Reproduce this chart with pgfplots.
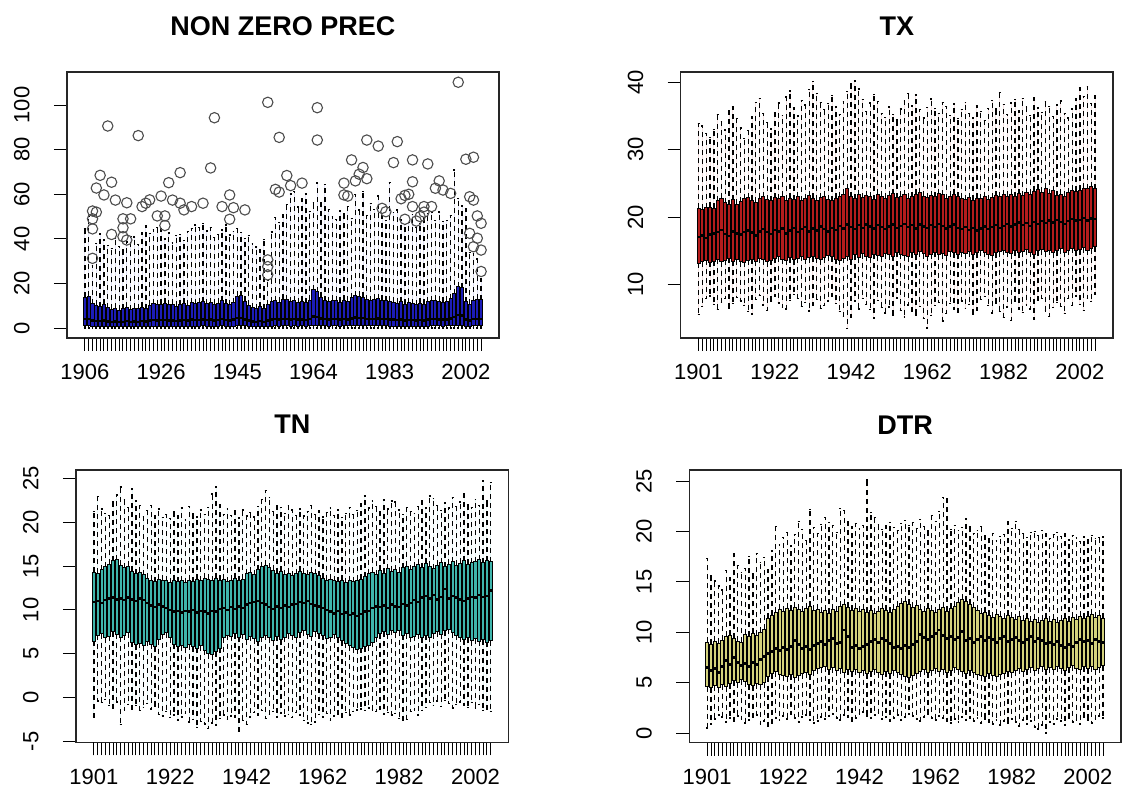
\documentclass[border=0pt]{standalone}
\usepackage{fontspec}
\setmainfont{Liberation Sans}
\usepackage{pgfplots}
\usepackage{pgfplotstable}
\pgfplotsset{compat=1.18}
\usepgfplotslibrary{statistics}

\definecolor{precfill}{HTML}{1C1CB8}
\definecolor{txfill}{HTML}{B41C1C}
\definecolor{tnfill}{HTML}{3FB5AC}
\definecolor{dtrfill}{HTML}{D4D27C}

% one row per year: lower whisker, lower quartile, median, upper quartile, upper whisker
\pgfplotstableread{
lw q1 med q3 uw
0.1 1.0 4.0 13.8 44.5
0.1 1.1 4.2 14.2 50.0
0.1 0.8 3.4 11.0 28.0
0.1 0.9 3.2 10.3 38.0
0.1 0.7 3.1 9.6 42.5
0.1 0.8 3.5 10.8 39.5
0.1 0.7 3.0 9.2 37.0
0.1 0.6 2.8 8.4 35.8
0.1 0.7 3.0 8.9 40.2
0.1 0.6 2.7 8.1 36.5
0.1 0.7 2.9 8.7 35.0
0.1 0.8 3.1 9.4 38.6
0.1 0.6 2.8 8.2 41.2
0.1 0.7 3.0 9.0 40.8
0.1 0.7 2.9 8.6 37.4
0.1 0.8 3.2 9.3 43.0
0.1 0.7 3.0 8.8 46.1
0.1 0.8 3.4 10.2 42.3
0.1 0.9 3.6 10.9 44.2
0.1 0.8 3.5 10.5 45.0
0.1 0.9 3.6 10.8 44.8
0.1 0.9 3.7 11.2 40.1
0.1 0.8 3.4 10.4 42.6
0.1 0.8 3.5 10.7 38.2
0.1 0.7 3.2 9.9 41.5
0.1 0.8 3.5 10.6 42.0
0.1 0.9 3.7 11.1 39.4
0.1 0.8 3.4 10.3 43.3
0.1 0.9 3.8 11.5 44.6
0.1 0.9 3.6 11.0 46.2
0.1 0.9 3.7 11.3 45.1
0.1 1.0 3.9 11.8 47.0
0.1 0.9 3.6 10.9 43.5
0.1 0.9 3.8 11.4 45.2
0.1 0.8 3.5 10.7 40.7
0.1 0.9 3.7 11.2 42.1
0.1 1.0 4.0 12.3 44.0
0.1 0.9 3.6 11.0 46.3
0.1 0.8 3.5 10.6 41.8
0.1 0.9 3.8 11.5 43.2
0.1 1.1 4.5 14.3 44.6
0.1 1.1 4.6 14.6 42.9
0.1 1.0 3.9 12.1 40.2
0.1 0.8 3.4 10.2 41.6
0.1 0.7 3.0 9.1 38.1
0.1 0.7 2.9 8.8 36.4
0.1 0.7 3.1 9.5 35.2
0.1 0.6 2.8 8.6 39.8
0.1 0.8 3.4 10.4 21.5
0.1 0.9 3.9 11.9 43.1
0.1 1.0 4.0 12.2 49.6
0.1 0.9 3.8 11.6 47.2
0.1 1.0 4.2 13.0 51.0
0.1 1.0 4.1 12.7 55.5
0.1 0.9 3.9 11.8 60.1
0.1 1.0 4.0 12.4 61.2
0.1 0.9 3.8 11.5 54.3
0.1 1.0 3.9 12.0 58.0
0.1 0.9 3.7 11.3 60.2
0.1 1.0 4.1 12.6 52.4
0.1 1.3 5.2 17.2 56.1
0.1 1.2 5.0 16.3 65.0
0.1 1.1 4.4 13.8 56.3
0.1 1.0 4.0 12.4 64.5
0.1 0.9 3.9 11.9 53.2
0.1 1.0 4.1 12.6 50.1
0.1 1.0 4.0 12.2 48.6
0.1 0.9 3.8 11.7 52.7
0.1 1.0 4.1 12.5 51.3
0.1 1.0 3.9 12.1 54.6
0.1 1.1 4.4 13.6 49.2
0.1 1.1 4.7 14.5 60.0
0.1 1.1 4.6 14.2 52.9
0.1 1.1 4.5 13.9 61.1
0.1 1.0 4.2 12.8 50.4
0.1 1.0 4.0 12.3 55.8
0.1 1.0 4.2 12.9 53.1
0.1 1.0 4.3 13.1 59.2
0.1 1.0 4.1 12.6 50.6
0.1 1.0 4.0 12.4 48.3
0.1 0.9 3.9 12.0 65.2
0.1 0.9 3.8 11.6 51.7
0.1 0.9 3.7 11.2 53.0
0.1 0.9 3.9 11.9 48.8
0.1 0.8 3.5 10.8 46.5
0.1 0.9 3.7 11.4 47.5
0.1 0.8 3.6 10.9 50.9
0.1 0.8 3.4 10.5 45.2
0.1 0.9 3.6 11.1 46.8
0.1 0.8 3.5 10.7 49.6
0.1 0.9 3.8 11.8 51.4
0.1 1.0 4.0 12.3 52.1
0.1 1.0 4.1 12.6 48.3
0.1 1.0 3.9 12.1 52.0
0.1 0.9 3.8 11.7 47.9
0.1 1.0 3.9 12.0 48.2
0.1 1.0 4.3 13.2 50.5
0.1 1.2 4.9 15.4 70.9
0.1 1.4 5.8 18.6 58.1
0.1 1.4 5.7 18.2 55.0
0.1 0.9 3.9 11.9 53.6
0.1 0.8 3.5 10.8 34.0
0.1 1.0 4.0 12.3 33.5
0.1 1.0 4.2 13.0 31.0
0.1 1.0 4.1 12.7 22.0
}\prectab

\pgfplotstableread{
lw q1 med q3 uw
5.6 13.2 17.1 21.3 33.9
6.8 13.4 17.3 21.2 33.5
7.9 13.6 16.9 21.4 32.4
8.3 13.3 17.4 21.5 31.8
7.1 13.5 17.6 21.3 33.0
6.3 13.8 17.8 22.4 35.2
7.4 13.4 18.1 22.8 34.1
8.0 13.6 17.5 22.1 32.9
6.5 13.9 17.2 21.8 35.8
7.2 13.5 17.9 22.6 36.4
8.1 13.7 17.6 21.9 34.6
7.6 13.4 17.4 22.3 33.2
6.9 13.3 17.8 22.7 31.6
6.0 13.6 18.0 22.9 32.8
5.6 13.8 17.7 22.5 34.9
7.8 13.5 17.3 22.2 37.0
8.4 13.9 17.9 22.8 37.6
7.0 13.7 18.2 23.0 35.3
6.2 13.4 17.8 22.6 34.0
7.5 13.6 17.5 22.4 33.1
8.2 13.9 18.1 22.9 35.5
7.3 14.1 17.9 22.7 36.9
6.6 13.8 18.3 23.1 35.1
6.4 13.6 17.6 22.5 37.8
7.7 14.0 18.0 22.8 38.7
8.5 13.7 18.4 22.6 36.2
7.9 13.9 17.8 23.0 35.0
6.8 14.2 18.2 22.4 37.3
7.4 13.8 18.5 22.7 36.6
6.1 14.0 17.9 23.2 38.9
7.0 14.1 18.3 22.8 40.1
7.8 13.9 18.0 22.5 38.3
6.5 13.7 18.6 22.9 37.0
6.9 14.0 18.2 23.1 35.9
7.6 14.3 17.9 22.6 36.8
8.3 14.1 18.4 22.4 38.0
7.2 13.8 18.1 22.8 36.3
6.0 13.6 18.7 23.0 35.2
5.3 13.9 18.3 23.4 37.1
3.5 14.2 18.9 24.2 38.6
5.1 13.7 18.5 23.0 39.7
7.5 14.4 18.2 22.7 40.2
6.4 14.0 18.8 23.3 39.0
8.0 14.6 18.4 22.9 37.4
7.1 14.2 18.9 23.2 35.6
6.3 14.0 18.6 23.0 36.9
5.0 14.5 18.3 22.6 38.2
7.7 14.3 18.8 23.4 37.1
6.6 14.1 18.5 23.1 35.4
5.8 14.6 18.2 22.8 34.8
6.7 14.4 18.6 23.2 36.3
5.4 14.2 18.9 23.5 35.2
7.9 14.8 18.4 22.9 34.4
6.2 14.5 18.7 23.1 36.0
5.2 14.3 19.0 23.3 37.2
7.0 14.1 18.5 22.8 38.3
6.1 14.7 18.8 23.0 36.5
5.5 14.4 18.3 23.4 38.1
6.8 14.9 18.9 23.6 35.9
5.0 14.6 18.6 23.1 34.7
3.6 14.2 18.4 22.9 36.2
5.4 14.5 18.8 23.2 37.5
6.9 14.8 18.5 23.0 36.1
7.4 14.4 19.0 23.5 35.3
4.6 14.6 18.7 23.3 37.0
5.7 14.3 18.3 22.7 36.4
7.2 14.9 18.6 23.1 35.1
6.4 14.7 18.9 23.4 36.8
5.9 14.5 18.4 23.0 34.6
7.6 14.8 18.2 22.8 35.9
6.5 14.6 18.5 22.6 37.0
7.1 14.9 18.1 22.9 35.4
5.6 14.4 18.4 22.5 34.8
6.2 14.7 18.0 22.8 36.5
7.8 15.0 18.3 22.7 35.6
8.2 14.8 18.6 23.0 34.3
6.9 14.5 18.2 22.6 36.1
5.8 14.3 18.5 22.9 37.3
7.3 14.7 18.8 23.2 36.0
6.0 14.9 18.4 23.0 38.5
5.1 15.1 18.7 23.3 36.7
6.7 14.8 19.0 23.1 35.2
4.7 14.6 18.6 23.4 36.9
7.5 15.0 18.9 23.0 37.4
6.3 14.7 19.2 23.5 35.8
5.9 14.9 18.8 23.2 37.6
7.0 15.2 19.1 23.6 36.3
6.4 14.8 18.7 23.4 35.1
4.9 14.5 19.3 23.8 37.7
7.7 15.0 19.0 24.1 36.2
8.0 15.2 19.4 23.7 35.5
6.1 14.9 19.1 24.3 37.1
5.3 15.1 19.5 23.5 36.4
6.6 14.7 19.2 23.9 34.9
7.4 15.0 19.6 23.2 36.6
6.8 15.3 19.3 23.4 37.2
5.7 14.8 19.0 23.1 35.3
7.9 15.1 19.4 23.6 34.7
6.9 15.4 19.7 24.0 36.0
8.3 15.0 19.5 23.8 37.5
7.1 15.2 19.6 24.0 39.2
6.2 15.5 19.9 24.3 37.9
8.0 15.1 19.5 24.2 39.4
7.5 15.3 19.8 24.5 36.8
8.6 15.6 19.7 24.2 38.0
}\txtab

\pgfplotstableread{
lw q1 med q3 uw
-2.2 6.4 10.9 14.3 21.2
-0.4 7.1 11.0 14.2 22.9
-0.6 7.3 10.8 14.6 21.5
-0.2 6.8 11.1 14.9 21.0
-0.9 7.0 11.3 15.2 20.8
-1.2 7.5 11.4 15.6 22.3
-0.5 7.2 11.2 15.7 23.1
-3.1 6.9 11.3 15.1 24.0
-1.4 7.1 11.1 14.8 22.6
-0.8 7.4 11.4 15.0 21.7
-1.3 6.3 11.2 14.4 23.8
-0.9 6.0 11.0 14.1 22.4
-1.5 6.2 11.3 14.3 21.9
-1.1 5.9 11.1 14.0 20.6
-0.7 6.4 10.8 13.6 21.3
-1.3 6.1 10.5 13.4 21.9
-1.0 5.8 10.3 13.2 20.8
-1.9 6.6 10.6 13.5 21.5
-2.1 7.2 10.4 13.4 20.5
-1.6 7.4 10.2 13.3 20.9
-2.3 6.8 10.0 13.1 20.4
-2.0 6.1 9.8 13.4 21.2
-2.6 5.8 9.9 13.2 20.7
-2.2 5.9 9.7 13.3 21.6
-1.8 5.7 9.9 13.1 20.3
-2.8 6.0 9.8 13.4 21.8
-2.5 5.8 10.0 13.2 21.0
-3.4 5.6 9.7 13.5 20.6
-2.7 5.9 9.9 13.3 21.4
-3.0 5.4 9.8 13.6 20.9
-3.5 5.0 9.6 13.5 21.7
-2.9 4.9 9.9 13.3 23.2
-3.2 5.2 9.8 13.6 24.1
-2.4 5.6 10.1 13.4 22.0
-2.0 6.8 10.2 13.5 20.9
-2.5 7.1 10.0 13.2 21.5
-2.1 7.0 10.3 13.4 20.8
-2.3 7.3 10.1 13.6 21.3
-3.9 6.9 10.4 13.3 20.5
-2.6 7.2 10.2 13.5 21.4
-3.1 6.6 10.6 14.1 20.7
-2.2 7.0 10.8 14.3 21.1
-1.7 6.7 10.9 14.0 20.6
-2.0 6.4 11.0 14.6 21.8
-1.5 6.9 10.8 14.9 22.6
-2.4 7.1 10.6 15.1 23.6
-1.9 6.8 10.3 14.8 22.8
-1.6 6.5 10.1 14.5 21.2
-2.2 7.0 10.4 14.2 21.9
-1.8 6.6 10.2 14.4 21.7
-2.1 6.9 10.5 14.0 21.0
-1.9 7.3 10.3 14.2 21.9
-2.3 7.1 10.6 13.9 21.4
-1.7 6.8 10.7 14.1 20.8
-2.0 7.4 10.9 14.4 21.5
-2.6 7.6 10.8 14.2 20.7
-2.9 7.2 11.0 14.0 21.2
-3.1 7.0 10.7 14.3 21.9
-2.8 7.5 10.5 14.1 20.9
-1.9 7.3 10.4 13.9 21.3
-2.2 7.1 10.2 13.6 20.6
-1.8 6.7 10.0 13.4 21.1
-2.6 6.9 9.8 13.5 21.6
-2.1 7.2 9.6 13.3 20.8
-1.9 6.8 9.9 13.2 21.4
-2.3 6.5 9.5 13.4 20.5
-1.7 6.2 9.7 13.1 21.0
-2.0 5.9 9.4 13.3 21.7
-1.6 5.7 9.6 13.2 20.9
-1.4 5.5 9.3 13.4 21.3
-1.3 5.6 9.5 13.5 22.1
-1.5 5.8 9.8 13.8 23.0
-1.2 5.9 9.9 14.1 21.6
-1.4 6.3 10.2 14.3 22.4
-1.6 6.9 10.4 14.0 21.8
-1.3 7.3 10.3 14.5 21.2
-1.9 7.5 10.5 14.2 22.6
-1.7 7.2 10.2 14.7 21.5
-2.0 7.7 10.6 14.4 22.4
-1.8 7.4 10.4 14.6 22.3
-2.4 7.6 10.3 14.3 21.4
-2.6 7.1 10.7 14.8 20.9
-2.5 7.3 10.5 15.0 21.7
-1.6 6.9 10.8 14.6 21.2
-1.4 7.0 11.1 14.9 21.0
-2.0 7.2 10.9 15.2 21.8
-1.5 6.8 11.4 14.8 22.5
-1.1 7.1 11.6 15.3 21.6
-0.6 6.9 11.3 15.0 23.0
-0.9 7.3 11.7 14.7 22.7
-0.4 7.5 11.2 15.1 21.9
-1.0 7.2 11.5 15.4 21.3
-0.3 7.6 12.4 14.9 22.2
-0.7 7.8 11.3 15.2 21.6
-1.2 7.4 11.6 15.5 22.8
-0.8 7.1 11.4 15.1 21.8
-0.5 6.9 11.2 15.3 22.3
-0.9 6.6 11.0 15.6 23.3
-1.1 6.8 11.3 15.2 22.0
-0.6 6.5 11.5 15.4 21.7
-1.2 6.7 11.4 15.5 22.6
-0.8 6.4 11.7 15.7 21.9
-1.5 6.6 11.5 15.4 24.7
-1.3 6.3 11.6 15.6 22.4
-1.6 6.5 12.2 15.5 24.5
}\tntab

\pgfplotstableread{
lw q1 med q3 uw
0.5 4.6 6.5 9.0 17.3
0.9 4.5 6.2 8.8 15.6
1.4 4.7 6.4 9.1 15.1
1.8 4.5 6.0 8.9 14.6
1.6 4.8 6.6 9.2 14.2
1.1 4.6 7.2 9.6 16.1
1.5 4.9 6.8 9.7 15.4
1.2 5.2 7.5 9.4 17.8
1.7 5.0 7.0 9.1 16.6
1.4 5.3 6.7 9.0 15.9
1.0 5.1 6.9 9.8 16.3
1.3 4.8 6.6 9.6 17.5
1.6 4.7 7.0 9.9 15.8
1.8 4.9 6.8 9.7 17.8
0.9 4.8 7.3 10.0 16.9
1.2 5.0 7.6 10.3 17.4
0.7 5.6 7.9 11.4 16.2
1.0 5.9 8.1 11.7 18.1
1.5 6.1 8.4 12.0 20.5
1.3 5.8 8.2 12.3 18.7
1.7 5.7 8.5 12.1 19.4
1.4 5.6 8.3 12.4 19.9
1.9 5.8 8.6 12.2 18.6
1.5 5.5 9.2 12.5 19.7
1.1 5.7 8.8 12.3 21.0
1.6 5.9 8.4 12.1 20.2
1.8 6.0 8.6 12.4 19.1
1.3 5.8 8.3 12.6 22.2
1.0 6.2 8.7 12.2 20.4
1.2 6.4 8.9 12.3 19.8
1.6 6.5 9.1 12.0 20.7
1.4 6.6 8.8 12.2 21.4
1.7 6.3 9.2 11.9 20.9
1.9 6.5 9.4 12.3 20.6
1.5 6.2 8.9 12.1 19.9
1.3 6.4 9.0 12.6 22.3
1.8 6.0 10.2 12.8 22.1
1.6 6.3 9.6 12.5 21.0
1.2 6.1 8.5 12.2 20.5
1.5 6.3 8.7 12.4 20.8
1.9 6.0 8.4 12.1 20.3
2.1 6.2 8.6 12.3 20.6
1.7 5.9 8.8 12.0 25.1
1.5 6.1 9.1 12.2 21.9
1.8 6.3 9.3 11.9 21.4
2.0 6.0 9.0 12.1 20.7
1.4 5.8 9.4 12.4 20.2
1.6 6.1 9.2 12.2 20.6
1.2 5.9 8.9 12.0 20.9
1.5 6.2 8.5 12.3 20.4
1.8 6.0 8.6 12.6 20.1
1.3 5.8 8.4 12.9 20.8
1.6 5.6 8.7 13.1 21.1
1.9 5.5 8.5 12.8 20.6
1.7 5.7 8.8 12.5 20.9
1.4 5.9 9.1 12.7 20.3
1.2 6.1 9.8 12.3 21.2
1.6 6.3 9.5 12.1 20.5
1.9 6.0 9.3 12.4 20.1
1.5 6.2 9.6 12.2 21.6
1.3 6.4 9.9 12.0 21.0
1.7 6.1 10.2 12.3 22.0
1.5 6.3 9.7 12.5 23.4
1.2 6.0 9.4 12.1 23.3
1.0 6.2 9.6 12.4 20.2
1.4 6.5 9.3 12.6 20.6
1.1 6.3 9.5 13.0 20.1
1.6 6.1 10.1 13.3 20.4
1.3 5.9 9.2 13.1 21.3
1.5 6.2 9.4 12.8 20.5
1.2 6.0 9.0 12.5 19.8
1.5 5.8 9.3 12.2 20.1
1.0 5.7 9.6 11.9 20.5
1.4 5.6 9.2 12.0 19.6
1.1 5.9 9.5 11.7 19.3
0.9 5.7 9.3 11.5 19.8
1.3 5.6 9.0 11.8 19.1
0.8 5.8 9.4 11.6 19.5
1.2 5.9 9.6 11.4 19.7
1.0 6.1 9.1 11.7 21.0
1.4 6.0 9.3 11.5 20.3
1.1 6.2 9.5 11.3 21.0
0.7 6.4 9.2 11.6 20.2
1.3 6.1 9.0 11.2 19.8
0.9 6.3 9.3 11.4 19.4
1.2 6.5 9.6 11.1 19.9
0.6 6.2 9.1 11.3 20.0
0.4 6.4 9.4 11.0 19.6
0.8 6.6 9.2 11.2 20.1
0.0 6.3 8.9 11.4 19.8
1.1 6.5 9.0 11.1 19.3
0.9 6.3 8.8 11.3 19.7
1.4 6.6 9.1 11.0 19.9
1.2 6.4 8.7 11.2 19.5
0.8 6.2 8.5 11.4 19.8
1.5 6.5 8.8 11.1 19.2
1.1 6.7 8.6 11.5 19.6
1.3 6.4 9.0 11.3 19.4
0.9 6.3 9.3 11.6 19.0
1.6 6.6 9.1 11.4 19.5
1.3 6.4 9.2 11.6 19.2
1.0 6.6 8.9 11.8 19.6
1.4 6.3 9.3 11.5 19.3
1.7 6.5 9.1 11.7 19.4
1.5 6.7 9.0 11.4 19.5
}\dtrtab

\pgfplotsset{
  rbox/.style={draw=black, line width=0.5pt, solid,
    boxplot/draw direction=y,
    boxplot/box extend=0.8, boxplot/whisker extend=0.5,
    boxplot/every median/.style={line width=1.2pt},
    boxplot/draw/lower whisker/.code={%
      \draw[line width=0.65pt, dash pattern=on 2.5pt off 2pt]
        (boxplot box cs:\pgfplotsboxplotvalue{lower quartile},0.5) --
        (boxplot box cs:\pgfplotsboxplotvalue{lower whisker},0.5);
      \draw[line width=0.65pt, solid]
        (boxplot whisker cs:\pgfplotsboxplotvalue{lower whisker},0) --
        (boxplot whisker cs:\pgfplotsboxplotvalue{lower whisker},1);},
    boxplot/draw/upper whisker/.code={%
      \draw[line width=0.65pt, dash pattern=on 2.5pt off 2pt]
        (boxplot box cs:\pgfplotsboxplotvalue{upper quartile},0.5) --
        (boxplot box cs:\pgfplotsboxplotvalue{upper whisker},0.5);
      \draw[line width=0.65pt, solid]
        (boxplot whisker cs:\pgfplotsboxplotvalue{upper whisker},0) --
        (boxplot whisker cs:\pgfplotsboxplotvalue{upper whisker},1);},
  },
  rpanel/.style={
    scale only axis, anchor=south west,
    xmin=-3.7, xmax=109.7,
    axis line style={line width=0.6pt, black!85},
    tick pos=left, tick align=outside,
    major tick length=6.5pt,
    tick style={line width=0.5pt, black},
    xtick={1,...,105}, xticklabels={},
    extra x ticks={1,21,41,61,81,101},
    extra x tick style={major tick length=6.5pt},
    ticklabel style={font=\fontsize{11}{13}\selectfont},
    /pgf/number format/assume math mode=true,
    xticklabel shift=6.5pt, yticklabel shift=12pt,
    xticklabel style={anchor=north, inner sep=0pt},
    yticklabel style={rotate=90, anchor=south, inner sep=0pt},
    title style={font=\bfseries\fontsize{13.5}{16}\selectfont,
      at={(0.5,1)}, anchor=base, yshift=12pt},
  },
}

% draws the 105 boxes of one table
\newcommand\drawboxes[2]{%
  \pgfplotsforeachungrouped \rowi in {0,...,104}{%
    \pgfplotstablegetelem{\rowi}{lw}\of{#1}\let\bLw\pgfplotsretval
    \pgfplotstablegetelem{\rowi}{q1}\of{#1}\let\bQa\pgfplotsretval
    \pgfplotstablegetelem{\rowi}{med}\of{#1}\let\bMd\pgfplotsretval
    \pgfplotstablegetelem{\rowi}{q3}\of{#1}\let\bQb\pgfplotsretval
    \pgfplotstablegetelem{\rowi}{uw}\of{#1}\let\bUw\pgfplotsretval
    \pgfmathtruncatemacro\bPos{\rowi+1}%
    \edef\doplot{\noexpand\addplot[rbox, fill=#2, boxplot prepared={draw position=\bPos,
      lower whisker=\bLw, lower quartile=\bQa, median=\bMd,
      upper quartile=\bQb, upper whisker=\bUw}] coordinates {};}%
    \doplot
  }%
}

\begin{document}
\begin{tikzpicture}
\useasboundingbox (0,0) rectangle (561pt,393.5pt);

\begin{axis}[rpanel, at={(33.5pt,224.5pt)}, width=216pt, height=133pt,
  ymin=-4.4, ymax=114.8, ytick={0,20,...,100},
  extra x tick labels={1906,1926,1945,1964,1983,2002},
  title={NON ZERO PREC}]
\drawboxes{\prectab}{precfill}
\addplot[only marks, mark=o, mark size=2.6pt, mark options={line width=0.55pt, draw=black!70}]
  coordinates {
  (3,31.3) (3,44.5) (3,49.0) (3,52.5) (4,52.0) (4,62.8) (5,68.5) (6,59.7)
  (7,90.6) (8,65.4) (8,42.0) (9,57.4) (11,41.0) (11,45.0) (11,49.0) (12,56.2)
  (12,39.5) (13,49.0) (15,86.3) (16,54.5) (17,56.0) (18,57.5) (20,50.3) (21,59.2)
  (22,46.0) (22,50.3) (23,65.2) (24,57.4) (26,69.7) (26,56.0) (27,53.0) (29,54.5)
  (32,56.0) (34,71.8) (35,94.3) (37,54.5) (39,59.7) (39,48.8) (40,54.0) (43,53.0)
  (49,101.2) (49,30.6) (49,27.6) (49,23.9) (51,62.2) (52,85.5) (52,61.0) (54,68.4)
  (55,63.9) (58,65.0) (62,98.8) (62,84.3) (69,65.0) (69,59.7) (70,59.2) (71,75.4)
  (72,66.0) (73,69.0) (74,72.0) (75,84.3) (75,67.0) (78,81.6) (79,53.7) (80,52.2)
  (82,74.2) (83,83.6) (84,58.0) (85,59.5) (85,48.8) (86,60.0) (87,75.4) (87,65.6)
  (87,54.5) (88,48.0) (89,50.0) (90,54.5) (90,52.0) (91,73.6) (92,54.5) (93,62.7)
  (94,66.0) (95,61.9) (97,60.4) (99,110.2) (101,75.7) (102,58.9) (102,42.5) (103,57.4)
  (103,76.6) (103,36.5) (104,40.3) (104,50.3) (105,35.0) (105,25.4) (105,47.0)
  };
\end{axis}

\begin{axis}[rpanel, at={(340.35pt,224.5pt)}, width=216.15pt, height=133pt,
  ymin=2.1, ymax=41.5, ytick={10,20,30,40},
  extra x tick labels={1901,1922,1942,1962,1982,2002},
  title={TX}]
\drawboxes{\txtab}{txfill}
\end{axis}

\begin{axis}[rpanel, at={(38pt,22.35pt)}, width=216.35pt, height=136.15pt,
  ymin=-5.1, ymax=25.95, ytick={-5,0,...,25},
  extra x tick labels={1901,1922,1942,1962,1982,2002},
  title={TN}]
\drawboxes{\tntab}{tnfill}
\end{axis}

\begin{axis}[rpanel, at={(344.65pt,22.15pt)}, width=215.85pt, height=136.35pt,
  ymin=-0.95, ymax=26.1, ytick={0,5,...,25},
  extra x tick labels={1901,1922,1942,1962,1982,2002},
  title={DTR}]
\drawboxes{\dtrtab}{dtrfill}
\end{axis}
\end{tikzpicture}
\end{document}
